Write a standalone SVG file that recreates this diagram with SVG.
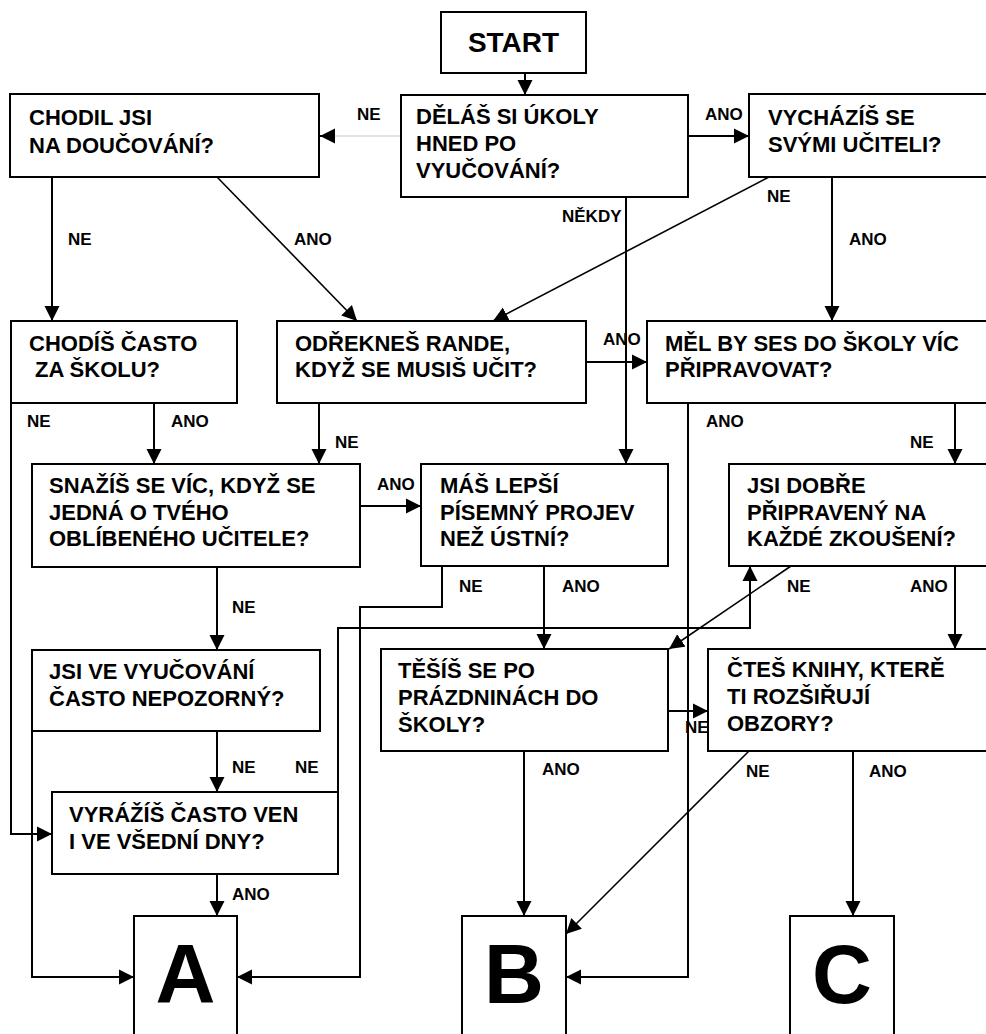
<svg xmlns="http://www.w3.org/2000/svg" width="986" height="1034" viewBox="0 0 986 1034">
<style>
.box{fill:#fff;stroke:#000;stroke-width:2}
.t{font-family:"Liberation Sans",Arial,sans-serif;font-weight:bold;font-size:22px;fill:#000}
.st{font-size:28px;text-anchor:middle}
.big{font-family:"Liberation Sans",Arial,sans-serif;font-weight:bold;font-size:83px;fill:#000;text-anchor:middle}
.lbl{font-family:"Liberation Sans",Arial,sans-serif;font-weight:bold;font-size:17px;fill:#000}
.c{fill:none;stroke:#000;stroke-width:2}
.d{fill:none;stroke:#000;stroke-width:1.6}
.g{fill:none;stroke:#c8c8c8;stroke-width:1}
</style>
<defs>
<marker id="ah" markerUnits="userSpaceOnUse" markerWidth="16" markerHeight="16" refX="15" refY="8" orient="auto">
<path d="M0,0.5 L15,8 L0,15.5 z" fill="#000"/>
</marker>
</defs>
<rect width="986" height="1034" fill="#fff"/>
<g id="connectors">
<path class="c" d="M525,73 V95" marker-end="url(#ah)"/>
<path class="g" d="M401,136 H319"/>
<path class="c" d="M334,136 H320" marker-end="url(#ah)" stroke-width="0.5"/>
<path class="c" d="M688,136 H749" marker-end="url(#ah)"/>
<path class="c" d="M626,197 V464" marker-end="url(#ah)"/>
<path class="c" d="M52,177 V321" marker-end="url(#ah)"/>
<path class="d" d="M217,177 L357,321" marker-end="url(#ah)"/>
<path class="d" d="M769,177 L493,321" marker-end="url(#ah)"/>
<path class="c" d="M832,177 V321" marker-end="url(#ah)"/>
<path class="c" d="M154,403 V464" marker-end="url(#ah)"/>
<path class="c" d="M11,403 V834 H52" marker-end="url(#ah)"/>
<path class="c" d="M319,403 V464" marker-end="url(#ah)"/>
<path class="c" d="M586,362 H647" marker-end="url(#ah)"/>
<path class="c" d="M688,403 V977 H566" marker-end="url(#ah)"/>
<path class="c" d="M955,403 V464" marker-end="url(#ah)"/>
<path class="c" d="M360,506 H421" marker-end="url(#ah)"/>
<path class="c" d="M217,567 V650" marker-end="url(#ah)"/>
<path class="c" d="M442,566 V607 H360 V977 H237" marker-end="url(#ah)"/>
<path class="c" d="M544,566 V649" marker-end="url(#ah)"/>
<path class="d" d="M791,566 L669,649" marker-end="url(#ah)"/>
<path class="c" d="M955,566 V649" marker-end="url(#ah)"/>
<path class="c" d="M217,731 V792" marker-end="url(#ah)"/>
<path class="c" d="M32,731 V977 H134" marker-end="url(#ah)"/>
<path class="c" d="M338,792 V628 H750 V566" marker-end="url(#ah)"/>
<path class="c" d="M217,874 V916" marker-end="url(#ah)"/>
<path class="c" d="M524,751 V916" marker-end="url(#ah)"/>
<path class="c" d="M668,711 H708" marker-end="url(#ah)"/>
<path class="d" d="M749,751 L566,934" marker-end="url(#ah)"/>
<path class="c" d="M853,751 V916" marker-end="url(#ah)"/>
</g>
<g id="start"><rect class="box" x="441" y="12" width="145" height="61"/><text class="t st" x="513.5" y="52">START</text></g>
<g id="q1"><rect class="box" x="401" y="95" width="287" height="102"/><text class="t" x="416" y="124">DĚLÁŠ SI ÚKOLY</text><text class="t" x="416" y="151">HNED PO</text><text class="t" x="416" y="178">VYUČOVÁNÍ?</text></g>
<g id="q2"><rect class="box" x="10" y="94" width="309" height="83"/><text class="t" x="29" y="125">CHODIL JSI</text><text class="t" x="29" y="153">NA DOUČOVÁNÍ?</text></g>
<g id="q3"><rect class="box" x="749" y="94" width="240" height="83"/><text class="t" x="768" y="125">VYCHÁZÍŠ SE</text><text class="t" x="768" y="152">SVÝMI UČITELI?</text></g>
<g id="q4"><rect class="box" x="11" y="321" width="226" height="82"/><text class="t" x="29" y="351">CHODÍŠ ČASTO</text><text class="t" x="35" y="377">ZA ŠKOLU?</text></g>
<g id="q5"><rect class="box" x="277" y="321" width="309" height="82"/><text class="t" x="295" y="351">ODŘEKNEŠ RANDE,</text><text class="t" x="295" y="377">KDYŽ SE MUSIŠ UČIT?</text></g>
<g id="q6"><rect class="box" x="647" y="321" width="342" height="82"/><text class="t" x="665" y="351">MĚL BY SES DO ŠKOLY VÍC</text><text class="t" x="665" y="377">PŘIPRAVOVAT?</text></g>
<g id="q7"><rect class="box" x="32" y="464" width="328" height="103"/><text class="t" x="49" y="493">SNAŽÍŠ SE VÍC, KDYŽ SE</text><text class="t" x="49" y="520">JEDNÁ O TVÉHO</text><text class="t" x="49" y="546">OBLÍBENÉHO UČITELE?</text></g>
<g id="q8"><rect class="box" x="421" y="464" width="247" height="102"/><text class="t" x="440" y="493">MÁŠ LEPŠÍ</text><text class="t" x="440" y="520">PÍSEMNÝ PROJEV</text><text class="t" x="440" y="546">NEŽ ÚSTNÍ?</text></g>
<g id="q9"><rect class="box" x="729" y="464" width="260" height="102"/><text class="t" x="747" y="493">JSI DOBŘE</text><text class="t" x="747" y="520">PŘIPRAVENÝ NA</text><text class="t" x="747" y="546">KAŽDÉ ZKOUŠENÍ?</text></g>
<g id="q10"><rect class="box" x="32" y="650" width="288" height="81"/><text class="t" x="49" y="679">JSI VE VYUČOVÁNÍ</text><text class="t" x="49" y="706">ČASTO NEPOZORNÝ?</text></g>
<g id="q11"><rect class="box" x="381" y="649" width="287" height="102"/><text class="t" x="398" y="678">TĚŠÍŠ SE PO</text><text class="t" x="398" y="705">PRÁZDNINÁCH DO</text><text class="t" x="398" y="732">ŠKOLY?</text></g>
<g id="q12"><rect class="box" x="708" y="649" width="281" height="102"/><text class="t" x="727" y="677">ČTEŠ KNIHY, KTERĚ</text><text class="t" x="727" y="704">TI ROZŠIŘUJÍ</text><text class="t" x="727" y="731">OBZORY?</text></g>
<g id="q13"><rect class="box" x="52" y="792" width="286" height="82"/><text class="t" x="69" y="822">VYRÁŽÍŠ ČASTO VEN</text><text class="t" x="69" y="849">I VE VŠEDNÍ DNY?</text></g>
<g id="resA"><rect class="box" x="134" y="916" width="103" height="130"/><text class="big" x="185.5" y="1003">A</text></g>
<g id="resB"><rect class="box" x="462" y="916" width="104" height="130"/><text class="big" x="514" y="1003">B</text></g>
<g id="resC"><rect class="box" x="790" y="916" width="104" height="130"/><text class="big" x="842" y="1003">C</text></g>
<g id="labels">
<text class="lbl" x="357" y="120">NE</text>
<text class="lbl" x="705" y="120">ANO</text>
<text class="lbl" x="562" y="222">NĚKDY</text>
<text class="lbl" x="68" y="245">NE</text>
<text class="lbl" x="294" y="245">ANO</text>
<text class="lbl" x="767" y="202">NE</text>
<text class="lbl" x="849" y="245">ANO</text>
<text class="lbl" x="171" y="427">ANO</text>
<text class="lbl" x="27" y="427">NE</text>
<text class="lbl" x="335" y="448">NE</text>
<text class="lbl" x="603" y="345">ANO</text>
<text class="lbl" x="706" y="427">ANO</text>
<text class="lbl" x="910" y="448">NE</text>
<text class="lbl" x="377" y="490">ANO</text>
<text class="lbl" x="232" y="613">NE</text>
<text class="lbl" x="459" y="592">NE</text>
<text class="lbl" x="562" y="592">ANO</text>
<text class="lbl" x="787" y="592">NE</text>
<text class="lbl" x="910" y="592">ANO</text>
<text class="lbl" x="232" y="773">NE</text>
<text class="lbl" x="295" y="773">NE</text>
<text class="lbl" x="232" y="900">ANO</text>
<text class="lbl" x="542" y="775">ANO</text>
<text class="lbl" x="685" y="733">NE</text>
<text class="lbl" x="746" y="777">NE</text>
<text class="lbl" x="869" y="777">ANO</text>
</g>
</svg>
